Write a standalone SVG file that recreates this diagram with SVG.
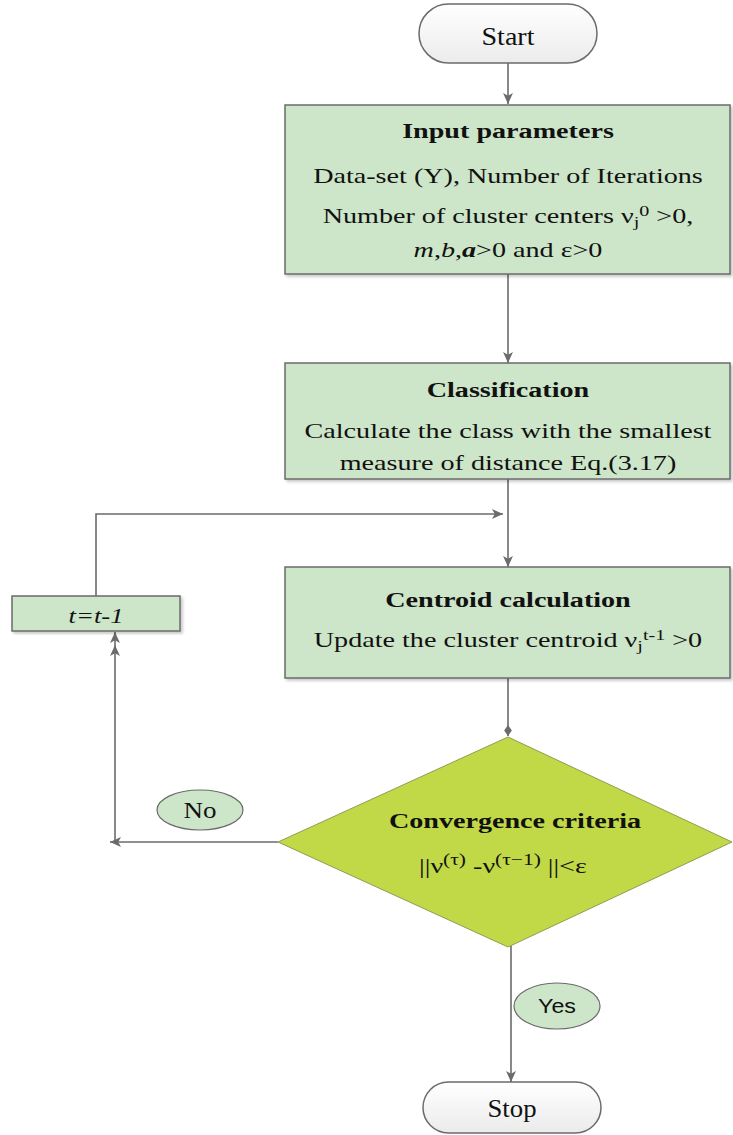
<svg xmlns="http://www.w3.org/2000/svg" width="733" height="1135" viewBox="0 0 733 1135">
  <defs>
    <linearGradient id="termFill" x1="0" y1="0" x2="0" y2="1">
      <stop offset="0" stop-color="#ffffff"/>
      <stop offset="1" stop-color="#ebebeb"/>
    </linearGradient>
    <filter id="shadow" x="-5%" y="-5%" width="112%" height="115%">
      <feDropShadow dx="2" dy="2" stdDeviation="1.5" flood-color="#000" flood-opacity="0.22"/>
    </filter>
    <marker id="arrow" viewBox="0 0 10 10" refX="10" refY="5" markerWidth="11" markerHeight="11" markerUnits="userSpaceOnUse" orient="auto">
      <path d="M0,0.5 L10,5 L0,9.5 L2.5,5 Z" fill="#6b6b6b"/>
    </marker>
    <marker id="diamondEnd" viewBox="0 0 10 10" refX="10" refY="5" markerWidth="11" markerHeight="11" markerUnits="userSpaceOnUse" orient="auto">
      <path d="M0,5 L5,1.5 L10,5 L5,8.5 Z" fill="#6b6b6b"/>
    </marker>
  </defs>
  <style>
    .term { fill: url(#termFill); stroke: #6b6b6b; stroke-width: 1.5; }
    .box { fill: #cde5c8; stroke: #6b6b6b; stroke-width: 1.5; filter: url(#shadow); }
    .decision { fill: #c1d847; stroke: #8f9c55; stroke-width: 1; }
    .label { fill: #cde5c8; stroke: #6b6b6b; stroke-width: 1.2; }
    .wire { fill: none; stroke: #6b6b6b; stroke-width: 1.6; }
    text { font-family: "Liberation Serif", "Times New Roman", serif; fill: #111; text-anchor: middle; }
    .title { font-weight: bold; font-size: 21px; }
    .body { font-size: 21px; }
    .sup { font-size: 15px; }
    .sans { font-family: "Liberation Sans", Arial, sans-serif; }
  </style>

  <!-- connectors -->
  <g id="connectors">
    <line class="wire" x1="508" y1="63" x2="508" y2="104" marker-end="url(#arrow)"/>
    <line class="wire" x1="508" y1="274" x2="508" y2="363" marker-end="url(#arrow)"/>
    <line class="wire" x1="508" y1="479" x2="508" y2="567" marker-end="url(#arrow)"/>
    <line class="wire" x1="508" y1="678" x2="508" y2="736" marker-end="url(#diamondEnd)"/>
    <!-- No branch back to the counter -->
    <line class="wire" x1="278" y1="842" x2="110" y2="842" marker-end="url(#arrow)"/>
    <line class="wire" x1="115" y1="842" x2="115" y2="645" marker-end="url(#arrow)"/>
    <line class="wire" x1="115" y1="645" x2="115" y2="632" marker-end="url(#arrow)"/>
    <!-- counter back into the loop -->
    <polyline class="wire" points="96,596 96,514 503,514" marker-end="url(#arrow)"/>
    <!-- Yes branch to Stop -->
    <line class="wire" x1="511" y1="946" x2="511" y2="1082" marker-end="url(#arrow)"/>
  </g>

  <g id="start">
    <rect class="term" x="419" y="4" width="178" height="59" rx="29.5" ry="29.5"/>
    <g transform="translate(508 0) scale(1.08 1) translate(-508 0)">
      <text x="508" y="45" font-size="26">Start</text>
    </g>
  </g>

  <g id="input-parameters">
    <rect class="box" x="285" y="105" width="445" height="169"/>
    <g transform="translate(508 0) scale(1.34 1) translate(-508 0)">
      <text class="title" x="508" y="138">Input parameters</text>
      <text class="body" x="508" y="183">Data-set (Y), Number of Iterations</text>
      <text class="body" x="508" y="223">Number of cluster centers ν<tspan class="sup" dy="4">j</tspan><tspan class="sup" dy="-11">0</tspan><tspan dy="7"> &gt;0,</tspan></text>
      <text class="body" x="508" y="257"><tspan font-style="italic">m</tspan>,<tspan font-style="italic">b</tspan>,<tspan font-style="italic" font-weight="bold">a</tspan>&gt;0 and ε&gt;0</text>
    </g>
  </g>

  <g id="classification">
    <rect class="box" x="285" y="363" width="445" height="116"/>
    <g transform="translate(508 0) scale(1.34 1) translate(-508 0)">
      <text class="title" x="508" y="397">Classification</text>
      <text class="body" x="508" y="438">Calculate the class with the smallest</text>
      <text class="body" x="508" y="470">measure of distance Eq.(3.17)</text>
    </g>
  </g>

  <g id="counter">
    <rect class="box" x="12" y="596" width="168" height="35"/>
    <g transform="translate(96 0) scale(1.33 1) translate(-96 0)">
      <text x="96" y="623" font-size="20" font-style="italic">t=t-1</text>
    </g>
  </g>

  <g id="centroid-calculation">
    <rect class="box" x="285" y="567" width="445" height="111"/>
    <g transform="translate(508 0) scale(1.34 1) translate(-508 0)">
      <text class="title" x="508" y="607">Centroid calculation</text>
      <text class="body" x="508" y="647">Update the cluster centroid ν<tspan class="sup" dy="4">j</tspan><tspan class="sup" dy="-11">t-1</tspan><tspan dy="7"> &gt;0</tspan></text>
    </g>
  </g>

  <g id="convergence-criteria">
    <polygon class="decision" points="508,737 732,842 508,947 278,842"/>
    <g transform="translate(511 0) scale(1.34 1) translate(-511 0)">
      <text class="title" x="514" y="828">Convergence criteria</text>
      <text class="body" x="505" y="873">||ν<tspan font-size="16" dy="-8">(τ)</tspan><tspan dy="8"> -ν</tspan><tspan font-size="16" dy="-8">(τ−1)</tspan><tspan dy="8"> ||&lt;ε</tspan></text>
    </g>
  </g>

  <g id="label-no">
    <ellipse class="label" cx="200" cy="810" rx="43" ry="20"/>
    <g transform="translate(200 0) scale(1.2 1) translate(-200 0)">
      <text x="200" y="818" font-size="22.5">No</text>
    </g>
  </g>

  <g id="label-yes">
    <ellipse class="label" cx="557" cy="1006" rx="43" ry="23"/>
    <g transform="translate(557 0) scale(1.19 1) translate(-557 0)">
      <text class="sans" x="557" y="1013" font-size="19.5">Yes</text>
    </g>
  </g>

  <g id="stop">
    <rect class="term" x="423" y="1082" width="178" height="51" rx="25.5" ry="25.5"/>
    <g transform="translate(512 0) scale(1.07 1) translate(-512 0)">
      <text x="512" y="1117" font-size="25">Stop</text>
    </g>
  </g>
</svg>
